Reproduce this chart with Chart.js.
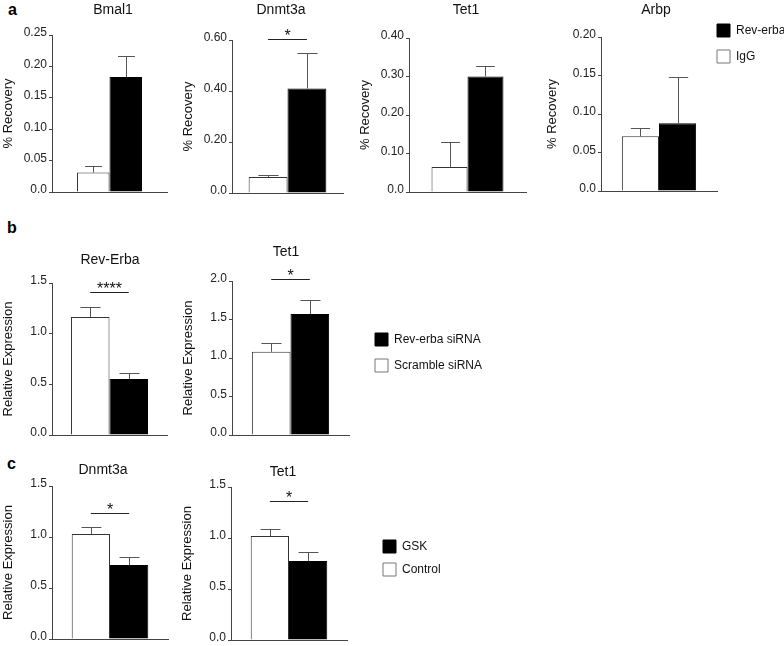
<!DOCTYPE html>
<html>
<head>
<meta charset="utf-8">
<script src="https://cdn.jsdelivr.net/npm/chart.js@4.4.1/dist/chart.umd.min.js"></script>
<style>
html,body{margin:0;padding:0;background:#fff;}
body{width:784px;height:646px;position:relative;overflow:hidden;font-family:"Liberation Sans",Arial,sans-serif;}
canvas{position:absolute;}
.lbl{position:absolute;font-weight:bold;font-size:16px;line-height:16px;color:#000;}
</style>
</head>
<body>
<div class="lbl" style="left:8px;top:2px">a</div>
<div class="lbl" style="left:7px;top:220px">b</div>
<div class="lbl" style="left:7px;top:456px">c</div>
<script>
// ---------- DATA ----------
// Panel a: ChIP (% Recovery)
const chipGroups = ['IgG', 'Rev-erba'];
const chipGenes = ['Bmal1', 'Dnmt3a', 'Tet1', 'Arbp'];
const chipIgG = [0.031, 0.063, 0.065, 0.071];
const chipIgGErr = [0.011, 0.007, 0.065, 0.011];
const chipRev = [0.183, 0.41, 0.30, 0.088];
const chipRevErr = [0.034, 0.14, 0.027, 0.060];
const chipYMax = [0.25, 0.6, 0.4, 0.2];
const chipYStep = [0.05, 0.2, 0.1, 0.05];
const chipTickLabels = [
  ['0.0', '0.05', '0.10', '0.15', '0.20', '0.25'],
  ['0.0', '0.20', '0.40', '0.60'],
  ['0.0', '0.10', '0.20', '0.30', '0.40'],
  ['0.0', '0.05', '0.10', '0.15', '0.20']
];
const chipSig = ['', '*', '', ''];
const chipSigAt = [null, 0.604, null, null];

// Panel b: siRNA (Relative Expression)
const siGroups = ['Scramble siRNA', 'Rev-erba siRNA'];
const siGenes = ['Rev-Erba', 'Tet1'];
const siScramble = [1.165, 1.08];
const siScrambleErr = [0.10, 0.11];
const siRev = [0.553, 1.57];
const siRevErr = [0.06, 0.18];
const siYMax = [1.5, 2.0];
const siYStep = [0.5, 0.5];
const siTickLabels = [
  ['0.0', '0.5', '1.0', '1.5'],
  ['0.0', '0.5', '1.0', '1.5', '2.0']
];
const siSig = ['****', '*'];
const siSigAt = [1.41, 2.02];

// Panel c: GSK (Relative Expression)
const gskGroups = ['Control', 'GSK'];
const gskGenes = ['Dnmt3a', 'Tet1'];
const gskControl = [1.03, 1.02];
const gskControlErr = [0.07, 0.07];
const gskTreated = [0.725, 0.775];
const gskTreatedErr = [0.075, 0.085];
const gskYMax = [1.5, 1.5];
const gskYStep = [0.5, 0.5];
const gskTickLabels = [
  ['0.0', '0.5', '1.0', '1.5'],
  ['0.0', '0.5', '1.0', '1.5']
];
const gskSig = ['*', '*'];
const gskSigAt = [1.235, 1.36];

// ---------- LAYOUT (page pixels) ----------
const layoutA = [
  {l: 52, t: 35, r: 167, b: 192, tx: 113, ty: 10, yw: 52, cp: 0.565},
  {l: 232, t: 40, r: 343, b: 193, tx: 281, ty: 10, yw: 52, cp: 0.70},
  {l: 409, t: 38, r: 526, b: 192, tx: 466, ty: 10, yw: 52, cp: 0.615},
  {l: 601, t: 37, r: 717, b: 191, tx: 656, ty: 10, yw: 57, cp: 0.64}
];
const layoutB = [
  {l: 52, t: 283, r: 167, b: 435, tx: 110, ty: 260, yw: 52, cp: 0.67},
  {l: 232, t: 281, r: 349, b: 435, tx: 286, ty: 252, yw: 52, cp: 0.66}
];
const layoutC = [
  {l: 52, t: 486, r: 168, b: 639, tx: 103, ty: 470, yw: 52, cp: 0.66},
  {l: 231, t: 487, r: 347, b: 640, tx: 283, ty: 472, yw: 52, cp: 0.66}
];
const legendLayout = {
  a: {x: 717, y: 24, pad: 13},
  b: {x: 375, y: 333, pad: 13},
  c: {x: 383, y: 540, pad: 10}
};

const FONT = "'Liberation Sans', Arial, Helvetica, sans-serif";
Chart.defaults.font.family = FONT;
const AXIS = '#444';

const errPlugin = {
  id: 'errbars',
  afterDatasetsDraw(chart, args, opts) {
    const ctx = chart.ctx, ys = chart.scales.y;
    chart.data.datasets.forEach((ds, i) => {
      const meta = chart.getDatasetMeta(i);
      meta.data.forEach((el, j) => {
        const v = ds.data[j], e = ds.errors[j];
        const yTop = Math.round(ys.getPixelForValue(v + e)) + 0.5;
        const x = Math.round(el.x) + 0.5;
        const half = el.width * 0.26;
        ctx.save();
        ctx.strokeStyle = opts.color || '#555';
        ctx.lineWidth = 1;
        ctx.beginPath();
        ctx.moveTo(x, el.y);
        ctx.lineTo(x, yTop);
        ctx.moveTo(x - half, yTop);
        ctx.lineTo(x + half, yTop);
        ctx.stroke();
        ctx.restore();
      });
    });
  }
};

const sigPlugin = {
  id: 'sigmark',
  afterDatasetsDraw(chart, args, opts) {
    if (!opts.text) return;
    const ctx = chart.ctx;
    const a = chart.getDatasetMeta(0).data[0], b = chart.getDatasetMeta(1).data[0];
    const yy = Math.round(chart.scales.y.getPixelForValue(opts.at)) + 0.5;
    ctx.save();
    ctx.strokeStyle = '#222';
    ctx.lineWidth = 1.2;
    ctx.beginPath();
    ctx.moveTo(a.x, yy);
    ctx.lineTo(b.x, yy);
    ctx.stroke();
    ctx.fillStyle = '#111';
    ctx.font = '16px ' + FONT;
    ctx.textAlign = 'center';
    ctx.textBaseline = 'alphabetic';
    ctx.fillText(opts.text, (a.x + b.x) / 2, yy + 1);
    ctx.restore();
  }
};

function makeBarChart(box, title, yTitle, groups, vals, errs, yMax, step, tickLabels, sig, sigAt) {
  const TFS = 14, LH = TFS * 1.2, XH = 10;
  const padR = 2 * box.tx - box.l - box.r + box.yw;
  const left = box.l - box.yw;
  const top = Math.floor(box.ty - LH / 2 - 1);
  const padT = box.ty - LH / 2 - top;
  const padB = box.t - top - padT - LH;
  const width = box.r + padR - left;
  const height = box.b + XH - top;
  const cv = document.createElement('canvas');
  cv.width = width; cv.height = height;
  cv.style.left = left + 'px'; cv.style.top = top + 'px';
  cv.style.width = width + 'px'; cv.style.height = height + 'px';
  document.body.appendChild(cv);
  new Chart(cv, {
    type: 'bar',
    data: {
      labels: [title],
      datasets: [
        {label: groups[0], data: [vals[0]], errors: [errs[0]], backgroundColor: '#ffffff', borderColor: '#333', borderWidth: 1},
        {label: groups[1], data: [vals[1]], errors: [errs[1]], backgroundColor: '#000000', borderColor: '#000', borderWidth: 1}
      ]
    },
    options: {
      responsive: false, animation: false, devicePixelRatio: 1,
      layout: {padding: 0},
      datasets: {bar: {categoryPercentage: box.cp, barPercentage: 1}},
      plugins: {
        legend: {display: false},
        tooltip: {enabled: false},
        title: {display: true, text: title, color: '#111', font: {family: FONT, size: TFS, weight: 'normal'},
                padding: {top: padT, bottom: padB}},
        errbars: {color: '#555'},
        sigmark: {text: sig, at: sigAt}
      },
      scales: {
        x: {
          ticks: {display: false},
          grid: {display: false},
          border: {display: true, color: AXIS, width: 1},
          afterFit: s => { s.height = XH; }
        },
        y: {
          min: 0, max: yMax,
          ticks: {stepSize: step, callback: (v, i) => tickLabels[i], color: '#222',
                  font: {family: FONT, size: 12}, padding: 2, labelOffset: -2},
          grid: {drawOnChartArea: false, drawTicks: true, tickLength: 3, color: AXIS},
          border: {display: true, color: AXIS, width: 1},
          title: {display: true, text: yTitle, color: '#111', font: {family: FONT, size: 13}, padding: {top: 1, bottom: 0}},
          afterFit: s => { s.width = box.yw; }
        },
        yR: {
          type: 'linear', position: 'right', display: true,
          ticks: {display: false}, grid: {display: false}, border: {display: false},
          afterFit: s => { s.width = padR; }
        }
      }
    },
    plugins: [errPlugin, sigPlugin]
  });
}

function makeLegend(pos, groups) {
  const h = 2 * (13 + pos.pad) + pos.pad + 20;
  const left = pos.x - pos.pad, top = pos.y - pos.pad, width = 420;
  const cv = document.createElement('canvas');
  cv.width = width; cv.height = h;
  cv.style.left = left + 'px'; cv.style.top = top + 'px';
  cv.style.width = width + 'px'; cv.style.height = h + 'px';
  document.body.appendChild(cv);
  new Chart(cv, {
    type: 'bar',
    data: {
      labels: [],
      datasets: [
        {label: groups[0], data: [], backgroundColor: '#ffffff', borderColor: '#777', borderWidth: 1},
        {label: groups[1], data: [], backgroundColor: '#000000', borderColor: '#000', borderWidth: 1}
      ]
    },
    options: {
      responsive: false, animation: false, devicePixelRatio: 1,
      layout: {padding: 0},
      scales: {x: {display: false}, y: {display: false}},
      plugins: {
        tooltip: {enabled: false},
        legend: {
          position: 'left', align: 'start', reverse: true,
          labels: {boxWidth: 13, boxHeight: 13, padding: pos.pad, color: '#111', font: {family: FONT, size: 12}}
        }
      }
    }
  });
}

for (let i = 0; i < chipGenes.length; i++) {
  makeBarChart(layoutA[i], chipGenes[i], '% Recovery', chipGroups,
    [chipIgG[i], chipRev[i]], [chipIgGErr[i], chipRevErr[i]],
    chipYMax[i], chipYStep[i], chipTickLabels[i], chipSig[i], chipSigAt[i]);
}
for (let i = 0; i < siGenes.length; i++) {
  makeBarChart(layoutB[i], siGenes[i], 'Relative Expression', siGroups,
    [siScramble[i], siRev[i]], [siScrambleErr[i], siRevErr[i]],
    siYMax[i], siYStep[i], siTickLabels[i], siSig[i], siSigAt[i]);
}
for (let i = 0; i < gskGenes.length; i++) {
  makeBarChart(layoutC[i], gskGenes[i], 'Relative Expression', gskGroups,
    [gskControl[i], gskTreated[i]], [gskControlErr[i], gskTreatedErr[i]],
    gskYMax[i], gskYStep[i], gskTickLabels[i], gskSig[i], gskSigAt[i]);
}
makeLegend(legendLayout.a, chipGroups);
makeLegend(legendLayout.b, siGroups);
makeLegend(legendLayout.c, gskGroups);
</script>
</body>
</html>
